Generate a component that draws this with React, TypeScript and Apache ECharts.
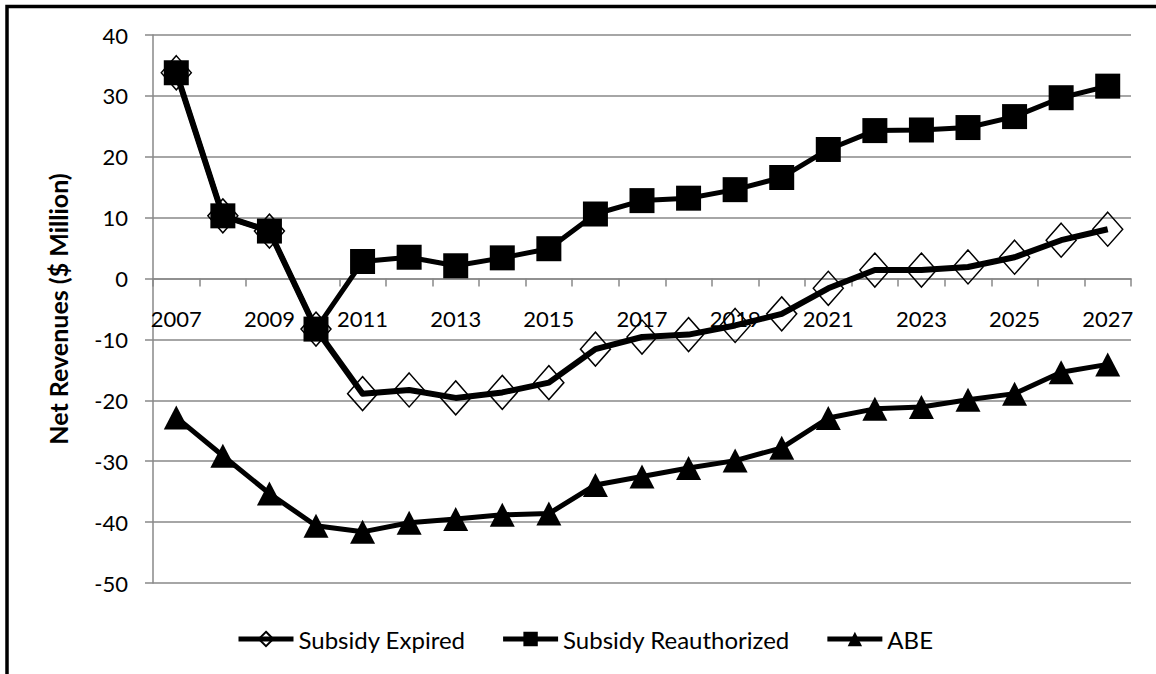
import React, { useEffect, useRef } from "react";
import * as echarts from "echarts";

const years = ["2007","2008","2009","2010","2011","2012","2013","2014","2015","2016","2017","2018","2019","2020","2021","2022","2023","2024","2025","2026","2027"];
const subsidyExpired = [33.8, 10.3, 7.8, -8.3, -18.9, -18.3, -19.6, -18.7, -17.1, -11.6, -9.6, -9.2, -7.7, -5.8, -1.6, 1.4, 1.4, 1.9, 3.5, 6.3, 8.1];
const subsidyReauthorized = [33.8, 10.3, 7.8, -8.3, 2.8, 3.5, 2.1, 3.4, 4.9, 10.6, 12.8, 13.2, 14.6, 16.6, 21.2, 24.3, 24.4, 24.8, 26.6, 29.7, 31.6];
const abe = [-22.8, -29.1, -35.3, -40.6, -41.6, -40.1, -39.5, -38.8, -38.6, -33.9, -32.5, -31.1, -29.9, -27.8, -22.9, -21.4, -21.1, -19.9, -18.9, -15.4, -14.1];
const yTitle = "Net Revenues ($ Million)";

const FONT = "Lato";
const GRID_COLOR = "#898989";

export default function App() {
  const ref = useRef<HTMLDivElement>(null);
  useEffect(() => {
    if (!ref.current) return;
    const chart = echarts.init(ref.current, null, { renderer: "svg" });
    chart.setOption({
      animation: false,
      backgroundColor: "#ffffff",
      textStyle: { fontFamily: FONT },
      grid: { left: 153, top: 35, width: 978, height: 548 },
      legend: {
        left: 231,
        top: 622,
        itemWidth: 55,
        itemHeight: 18,
        itemGap: 35,
        lineStyle: { width: 5 },
        textStyle: { fontFamily: FONT, fontSize: 24, color: "#000" },
        data: ["Subsidy Expired", "Subsidy Reauthorized", "ABE"],
      },
      xAxis: {
        type: "category",
        data: years,
        boundaryGap: true,
        axisLine: { onZero: true, lineStyle: { color: GRID_COLOR, width: 1.5 } },
        axisTick: { show: true, interval: 0, length: 8, lineStyle: { color: GRID_COLOR, width: 1.5 } },
        axisLabel: { interval: 1, margin: -276, fontFamily: FONT, fontSize: 22, color: "#000" },
        splitLine: { show: false },
      },
      yAxis: {
        type: "value",
        min: -50,
        max: 40,
        interval: 10,
        axisLine: { show: true, lineStyle: { color: GRID_COLOR, width: 1.5 } },
        axisTick: { show: true, length: 8, lineStyle: { color: GRID_COLOR, width: 1.5 } },
        axisLabel: { margin: 25, fontFamily: FONT, fontSize: 22, color: "#000" },
        splitLine: { show: true, lineStyle: { color: GRID_COLOR, width: 1.5 } },
      },
      graphic: [
        {
          type: "rect",
          shape: { x: 7, y: 6.5, width: 1200, height: 700 },
          style: { fill: "none", stroke: "#000", lineWidth: 3.5 },
          silent: true,
        },
        {
          type: "text",
          x: 58,
          y: 309,
          rotation: Math.PI / 2,
          style: {
            text: yTitle,
            fontFamily: FONT,
            fontSize: 25,
            fontWeight: "bold",
            fill: "#000",
            align: "center",
            verticalAlign: "middle",
          },
        },
      ],
      series: [
        {
          name: "Subsidy Expired",
          type: "line",
          data: subsidyExpired,
          symbol: "diamond",
          symbolSize: [30, 34],
          showAllSymbol: true,
          lineStyle: { color: "#000", width: 6, join: "round" },
          itemStyle: { color: "rgba(255,255,255,0)", borderColor: "#000", borderWidth: 1.5 },
        },
        {
          name: "Subsidy Reauthorized",
          type: "line",
          data: subsidyReauthorized,
          symbol: "rect",
          symbolSize: 25,
          showAllSymbol: true,
          lineStyle: { color: "#000", width: 5, join: "round" },
          itemStyle: { color: "#000" },
        },
        {
          name: "ABE",
          type: "line",
          data: abe,
          symbol: "triangle",
          symbolSize: [25, 24],
          showAllSymbol: true,
          lineStyle: { color: "#000", width: 5, join: "round" },
          itemStyle: { color: "#000" },
        },
      ],
    });
    return () => chart.dispose();
  }, []);
  return (
    <div
      ref={ref}
      style={{ position: "fixed", left: 0, top: 0, width: 1156, height: 674, background: "#fff" }}
    />
  );
}
